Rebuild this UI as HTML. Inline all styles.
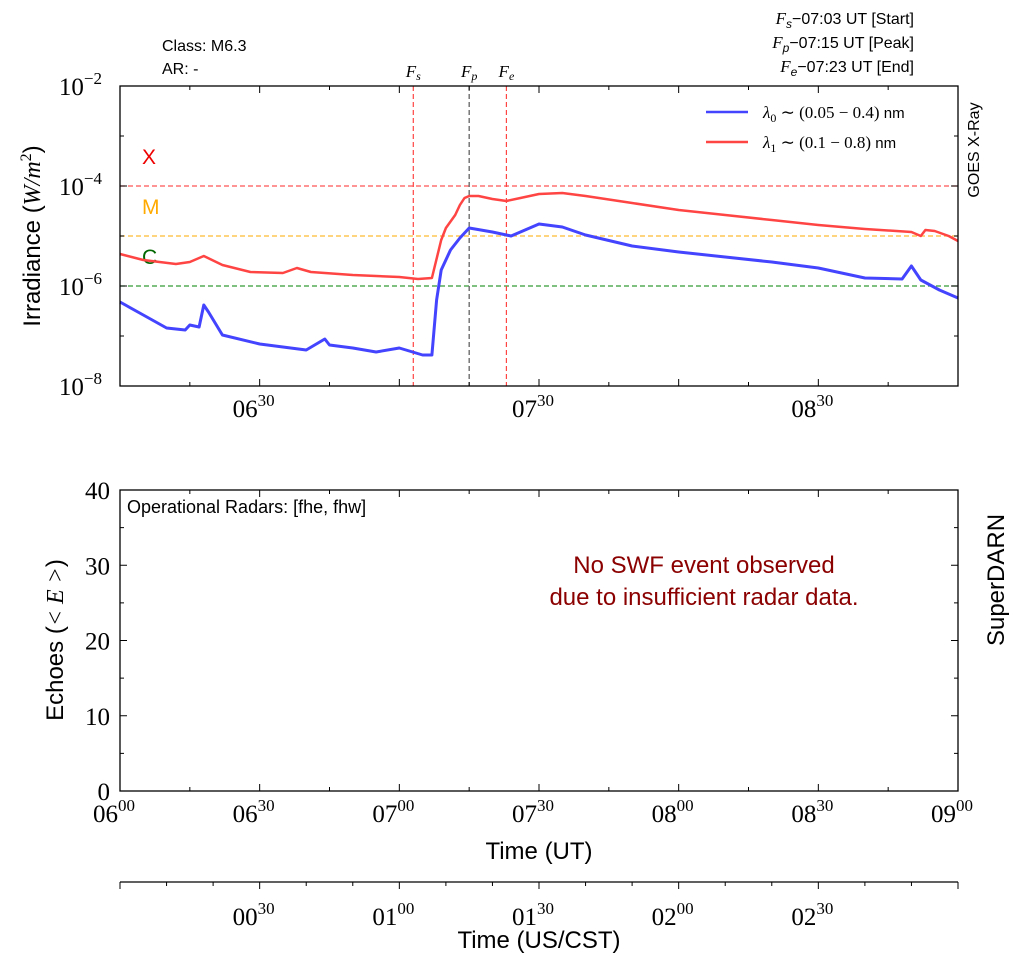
<!DOCTYPE html>
<html><head><meta charset="utf-8"><style>
body{margin:0;background:#fff}
svg{display:block}
.sans{font-family:"Liberation Sans",sans-serif}
.serif{font-family:"Liberation Serif",serif}
</style></head><body>
<svg id="svg" width="1020" height="965" xmlns="http://www.w3.org/2000/svg">
<g id="top"></g>
<g id="bot"></g>
<g id="cst"></g>
</svg>
<script>
// minutes since 06:00 UT, log10 irradiance
const longT = [0,5,12,15,18,22,28,35,38,41,50,60,64,67,69,70,72,73,74,75,77,80,83,86,90,95,100,110,120,130,140,150,160,170,172,173,175,178,180];
const longY = [-5.36,-5.48,-5.56,-5.52,-5.40,-5.58,-5.72,-5.74,-5.64,-5.72,-5.78,-5.82,-5.86,-5.84,-5.08,-4.84,-4.58,-4.38,-4.24,-4.20,-4.20,-4.26,-4.30,-4.24,-4.16,-4.14,-4.20,-4.34,-4.48,-4.58,-4.68,-4.78,-4.86,-4.92,-5.00,-4.88,-4.90,-5.00,-5.10];
const shortT = [0,5,10,14,15,17,18,19,22,30,40,44,45,50,55,60,65,67,68,69,71,73,75,80,84,86,90,95,100,110,120,130,140,150,160,168,170,172,176,180];
const shortY = [-6.32,-6.58,-6.84,-6.88,-6.78,-6.82,-6.38,-6.52,-6.98,-7.16,-7.28,-7.06,-7.18,-7.24,-7.32,-7.24,-7.38,-7.38,-6.28,-5.68,-5.28,-5.04,-4.84,-4.92,-5.00,-4.92,-4.76,-4.82,-4.98,-5.20,-5.32,-5.42,-5.52,-5.64,-5.84,-5.86,-5.60,-5.88,-6.08,-6.24];
const flareNames = ["s","p","e"];
const flareT = [63,75,83];
const classNames = ["X","M","C"];
const classLog = [-4,-5,-6];
const echoTicks = [0,10,20,30,40];
const utLabels = ["06","06","07","07","08","08","09"];
const cstLabels = ["00","01","01","02","02"];

const NS="http://www.w3.org/2000/svg";
const X0=120,X1=958;
const xs=t=>X0+(X1-X0)*t/180;
const yTop=l=>86+(-2-l)*50;
const yBot=v=>791-(791-490)*v/40;
function el(p,tag,a,txt){const e=document.createElementNS(NS,tag);for(const k in a)e.setAttribute(k,a[k]);if(txt!==undefined)e.textContent=txt;p.appendChild(e);return e;}
const gTop=document.getElementById('top'),gBot=document.getElementById('bot'),gCst=document.getElementById('cst');

const ccol=["#f55","#fb3","#393"], tcol=["#e00","#fa0","#060"];
classLog.forEach((l,i)=>{
 const ln=el(gTop,'line',{x1:X0,x2:X1,y1:yTop(l),y2:yTop(l),stroke:ccol[i],'stroke-dasharray':'5,3','stroke-width':1.2});
 
 
 const t=el(gTop,'text',{x:142,y:yTop(l)-22,fill:tcol[i],'font-size':21,class:'sans'},classNames[i]);
 
 
});
flareT.forEach((t,i)=>{
 const ln=el(gTop,'line',{x1:xs(t),x2:xs(t),y1:86,y2:386,stroke:i==1?'#555':'#f44','stroke-dasharray':'5,3','stroke-width':1.2});
 
 
 const tx=el(gTop,'text',{x:xs(t),y:77,'text-anchor':'middle','font-size':17,'font-style':'italic',class:'serif'});
 
 
 el(tx,'tspan',{},'F');el(tx,'tspan',{'font-size':12,dy:3},flareNames[i]);
});
function path(T,Y,col,w,name){let d='';T.forEach((t,i)=>d+=(i?'L':'M')+xs(t).toFixed(1)+','+yTop(Y[i]).toFixed(1));
 const p=el(gTop,'path',{d:d,fill:'none',stroke:col,'stroke-width':w,'stroke-linejoin':'round'});
 }
path(shortT,shortY,'#44f',3,'short-wavelength-series');
path(longT,longY,'#f44',2.5,'long-wavelength-series');
el(gTop,'rect',{x:X0,y:86,width:X1-X0,height:300,fill:'none',stroke:'#000','stroke-width':1.3});
for(let l=-2;l>=-8;l--){const y=yTop(l);
 if(l%2==0){el(gTop,'line',{x1:X0,x2:X0+7,y1:y,y2:y,stroke:'#000'});el(gTop,'line',{x1:X1,x2:X1-7,y1:y,y2:y,stroke:'#000'});
  const tt=el(gTop,'text',{x:102,y:y+9,'text-anchor':'end','font-size':25,class:'serif'});
  el(tt,'tspan',{},'10');el(tt,'tspan',{dy:-11,'font-size':17},'−'+(-l));}
 else {el(gTop,'line',{x1:X0,x2:X0+4,y1:y,y2:y,stroke:'#000'});el(gTop,'line',{x1:X1,x2:X1-4,y1:y,y2:y,stroke:'#000'});}
}
for(let m=0;m<=180;m+=15){const x=xs(m),mj=m%30==0;const L=mj?7:4;
 [[gTop,86,386],[gBot,490,791]].forEach(([g,a,b])=>{el(g,'line',{x1:x,x2:x,y1:a,y2:a+L,stroke:'#000'});el(g,'line',{x1:x,x2:x,y1:b,y2:b-L,stroke:'#000'});});
}
[30,90,150].forEach(m=>{const tx=el(gTop,'text',{x:xs(m)-6,y:417,'text-anchor':'middle','font-size':25,class:'serif'});
 
 el(tx,'tspan',{},utLabels[m/30]);el(tx,'tspan',{dy:-11,'font-size':17},'30');});
const tl=[['Class:  M6.3',162,51,'start','class-info'],['AR: -',162,74,'start','ar-info']];
tl.forEach(a=>{const tt=el(gTop,'text',{x:a[1],y:a[2],'text-anchor':a[3],'font-size':16,class:'sans'},a[0]);});
const times=["07:03 UT [Start]","07:15 UT [Peak]","07:23 UT [End]"];
times.forEach((s,i)=>{const tt=el(gTop,'text',{x:914,y:24+i*24,'text-anchor':'end','font-size':16,class:'sans'});
 
 el(tt,'tspan',{'font-style':'italic',class:'serif','font-size':17},'F');el(tt,'tspan',{'font-style':'italic','font-size':12,dy:4},flareNames[i]);el(tt,'tspan',{dy:-4},'−'+s);});
let q=el(gTop,'text',{x:0,y:0,'font-size':16,class:'sans','text-anchor':'middle',transform:'translate(979,150) rotate(-90)'},'GOES X-Ray');

q=el(gTop,'text',{x:0,y:0,'font-size':24,class:'sans','text-anchor':'middle',transform:'translate(40,236) rotate(-90)'});

el(q,'tspan',{},'Irradiance (');el(q,'tspan',{'font-style':'italic',class:'serif'},'W/m');el(q,'tspan',{dy:-9,'font-size':16,class:'serif'},'2');el(q,'tspan',{dy:9},')');
[['#44f','0','(0.05 − 0.4)',112],['#f44','1','(0.1 − 0.8)',142]].forEach((a,i)=>{
 const g=el(gTop,'g',{});
 el(g,'line',{x1:706,x2:748,y1:a[3],y2:a[3],stroke:a[0],'stroke-width':2.5});
 const tx=el(g,'text',{x:763,y:a[3]+6,'font-size':17,class:'serif'});
 el(tx,'tspan',{'font-style':'italic'},'λ');el(tx,'tspan',{'font-size':12,dy:4},a[1]);el(tx,'tspan',{dy:-4},' ∼ '+a[2]+' ');el(tx,'tspan',{class:'sans','font-size':15},'nm');
});
el(gBot,'rect',{x:X0,y:490,width:X1-X0,height:301,fill:'none',stroke:'#000','stroke-width':1.3});
echoTicks.forEach(v=>{const y=yBot(v);el(gBot,'line',{x1:X0,x2:X0+7,y1:y,y2:y,stroke:'#000'});el(gBot,'line',{x1:X1,x2:X1-7,y1:y,y2:y,stroke:'#000'});
 const tx=el(gBot,'text',{x:110,y:y+9,'text-anchor':'end','font-size':25,class:'serif'},v);});
for(let v=5;v<40;v+=10){const y=yBot(v);el(gBot,'line',{x1:X0,x2:X0+4,y1:y,y2:y,stroke:'#000'});el(gBot,'line',{x1:X1,x2:X1-4,y1:y,y2:y,stroke:'#000'});}
utLabels.forEach((h,i)=>{const tx=el(gBot,'text',{x:xs(i*30)-6,y:822,'text-anchor':'middle','font-size':25,class:'serif'});
 
 el(tx,'tspan',{},h);el(tx,'tspan',{dy:-11,'font-size':17},i%2?'30':'00');});
q=el(gBot,'text',{x:539,y:859,'text-anchor':'middle','font-size':24,class:'sans'},'Time (UT)');
q=el(gBot,'text',{x:127,y:513,'font-size':18,class:'sans'},'Operational Radars: [fhe, fhw]');
q=el(gBot,'text',{x:704,y:573,'text-anchor':'middle','font-size':24,fill:'#8b0000',class:'sans'},'No SWF event observed');
q=el(gBot,'text',{x:704,y:605,'text-anchor':'middle','font-size':24,fill:'#8b0000',class:'sans'},'due to insufficient radar data.');
q=el(gBot,'text',{x:0,y:0,'font-size':24,class:'sans','text-anchor':'middle',transform:'translate(1004,580) rotate(-90)'},'SuperDARN');
q=el(gBot,'text',{x:0,y:0,'font-size':24,class:'sans','text-anchor':'middle',transform:'translate(63,640) rotate(-90)'});

el(q,'tspan',{},'Echoes (');el(q,'tspan',{class:'serif','font-style':'italic'},'< E >');el(q,'tspan',{},')');
el(gCst,'line',{x1:X0,x2:X1,y1:882,y2:882,stroke:'#000','stroke-width':1.3});
for(let m=0;m<=180;m+=10){const mj=m%30==0;el(gCst,'line',{x1:xs(m),x2:xs(m),y1:882,y2:882+(mj?7:4),stroke:'#000'});}
cstLabels.forEach((h,i)=>{const tx=el(gCst,'text',{x:xs(30+i*30)-6,y:925,'text-anchor':'middle','font-size':25,class:'serif'});
 
 el(tx,'tspan',{},h);el(tx,'tspan',{dy:-11,'font-size':17},i%2?'00':'30');});
q=el(gCst,'text',{x:539,y:948,'text-anchor':'middle','font-size':24,class:'sans'},'Time (US/CST)');
</script>
</body></html>
